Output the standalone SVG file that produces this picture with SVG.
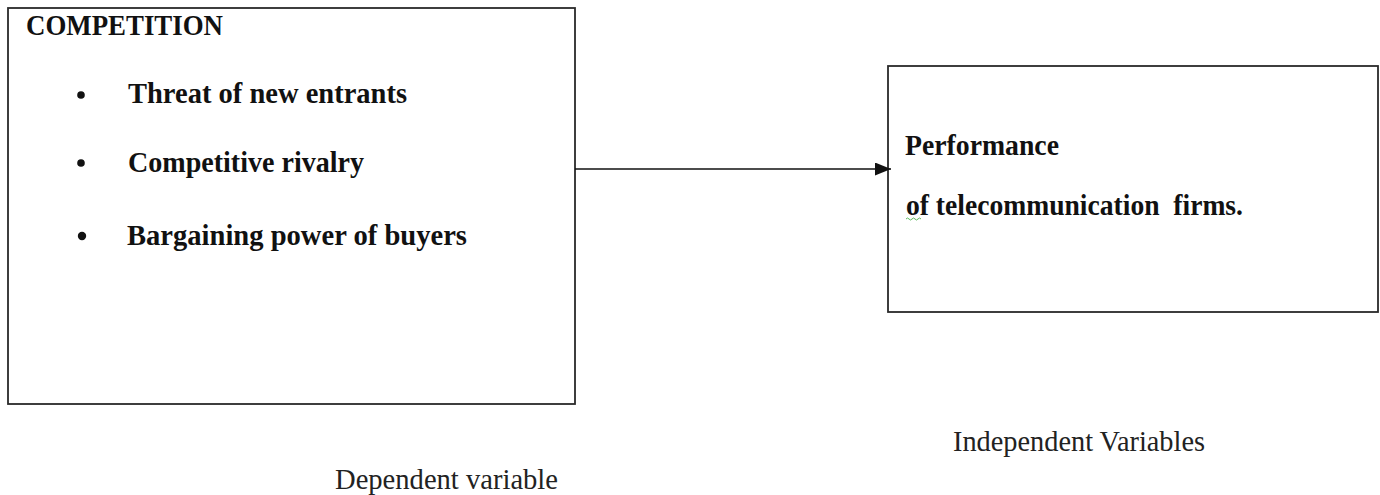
<svg xmlns="http://www.w3.org/2000/svg" width="1380" height="495" viewBox="0 0 1380 495">
<style>
.box{fill:#fff;stroke:#2a2a2a;stroke-width:1.8}
.b{font-family:"Liberation Serif",serif;font-weight:bold;font-size:28.5px;fill:#111}
.r{font-family:"Liberation Serif",serif;font-size:28.5px;fill:#222}
.conn{stroke:#111;stroke-width:1.6;fill:none}
.dot{fill:#111}
</style>
<defs>
<marker id="ah" viewBox="0 0 16 13" refX="16" refY="6.5" markerWidth="16" markerHeight="13" orient="auto" markerUnits="userSpaceOnUse">
<path d="M0,0 L16,6.5 L0,13 Z" fill="#111"/>
</marker>
</defs>
<rect width="1380" height="495" fill="#fff"/>
<g id="competition">
<rect class="box" x="8" y="8" width="567" height="396"/>
<text class="b" x="26" y="35" textLength="197" lengthAdjust="spacingAndGlyphs">COMPETITION</text>
<circle class="dot" cx="81" cy="95" r="3.8"/>
<text class="b" x="128" y="103" textLength="279" lengthAdjust="spacingAndGlyphs">Threat of new entrants</text>
<circle class="dot" cx="81" cy="163" r="3.8"/>
<text class="b" x="128" y="172" textLength="236" lengthAdjust="spacingAndGlyphs">Competitive rivalry</text>
<circle class="dot" cx="82" cy="236" r="4.2"/>
<text class="b" x="127" y="245" textLength="340" lengthAdjust="spacingAndGlyphs">Bargaining power of buyers</text>
</g>
<g id="performance">
<rect class="box" x="888" y="66" width="490" height="246"/>
<text class="b" x="905" y="155" textLength="154" lengthAdjust="spacingAndGlyphs">Performance</text>
<text class="b" x="906" y="215" textLength="337" lengthAdjust="spacingAndGlyphs" xml:space="preserve">of telecommunication  firms.</text>
<path d="M906,219 q1.5,-2 3,0 t3,0 t3,0 t3,0 t3,0" fill="none" stroke="#3a3" stroke-width="0.8"/>
</g>
<g id="connectors">
<line class="conn" x1="575" y1="169" x2="891" y2="169" marker-end="url(#ah)"/>
</g>
<g id="labels">
<text class="r" x="953" y="451" textLength="252" lengthAdjust="spacingAndGlyphs">Independent Variables</text>
<text class="r" x="335" y="489" textLength="223" lengthAdjust="spacingAndGlyphs">Dependent variable</text>
</g>
</svg>
